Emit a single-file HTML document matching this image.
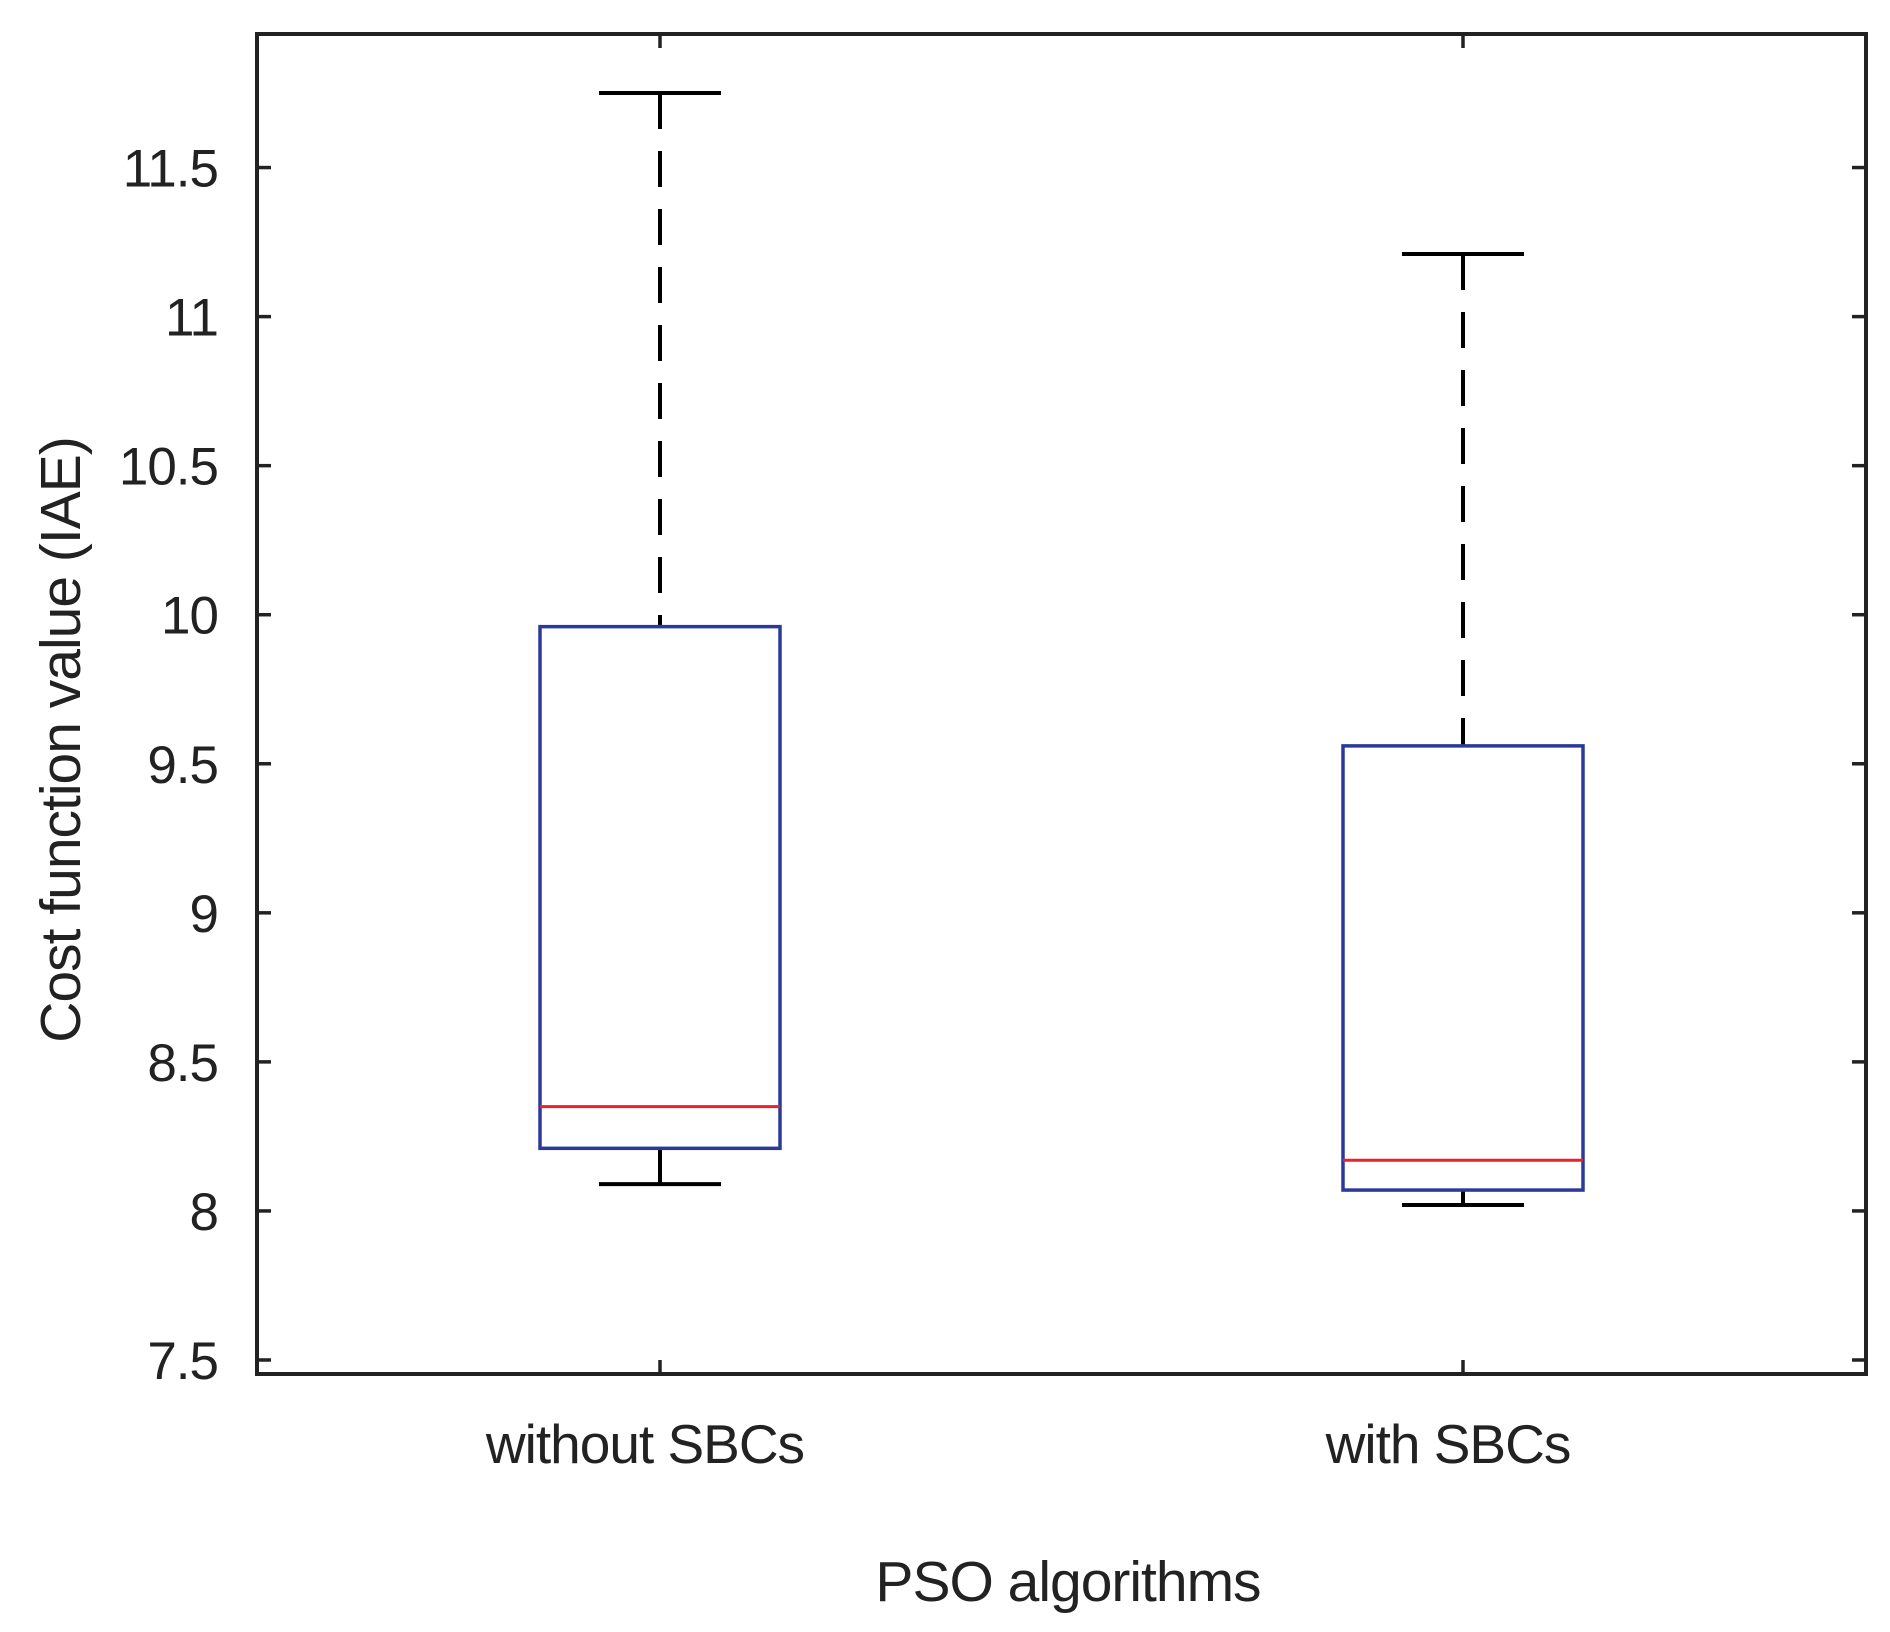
<!DOCTYPE html>
<html><head><meta charset="utf-8"><style>
html,body{margin:0;padding:0;background:#fff;}
svg{display:block;font-family:"Liberation Sans",sans-serif;}
</style></head><body>
<svg id="chart" width="1890" height="1632" viewBox="0 0 1890 1632"></svg>
<script>
const categories = ["without SBCs", "with SBCs"];
const q1Values = [8.21, 8.07];
const q3Values = [9.96, 9.56];
const medianValues = [8.35, 8.17];
const whiskerLow = [8.09, 8.02];
const whiskerHigh = [11.75, 11.21];
const yTicks = [7.5, 8, 8.5, 9, 9.5, 10, 10.5, 11, 11.5];
const yTickLabels = ["7.5", "8", "8.5", "9", "9.5", "10", "10.5", "11", "11.5"];

const L = 257, R = 1866, T = 34, B = 1374;
const yMin = 7.453, yMax = 11.948;
const y = v => B - (v - yMin) / (yMax - yMin) * (B - T);
const x = i => 660 + i * 803;
const svg = document.getElementById('chart');
const NS = 'http://www.w3.org/2000/svg';
function el(tag, attrs, parent) {
  const e = document.createElementNS(NS, tag);
  for (const k in attrs) e.setAttribute(k, attrs[k]);
  (parent || svg).appendChild(e);
  return e;
}
const col = '#222';
yTicks.forEach((v, i) => {
  const t1 = el('line', {x1: L, x2: L + 14, y1: y(v), y2: y(v), stroke: col, 'stroke-width': 3.5});
  
  
  const t2 = el('line', {x1: R - 14, x2: R, y1: y(v), y2: y(v), stroke: col, 'stroke-width': 3.5});
  
  
  const lb = el('text', {x: 218, y: y(v) + 19, 'text-anchor': 'end', 'font-size': 53, fill: col, 'letter-spacing': -1});
  lb.textContent = yTickLabels[i];
  
  
});
categories.forEach((c, i) => {
  const cx = x(i);
  const t1 = el('line', {x1: cx, x2: cx, y1: B, y2: B - 14, stroke: col, 'stroke-width': 3.5});
  
  
  const t2 = el('line', {x1: cx, x2: cx, y1: T, y2: T + 14, stroke: col, 'stroke-width': 3.5});
  
  
  const lb = el('text', {x: cx - 15, y: 1463, 'text-anchor': 'middle', 'font-size': 55, fill: col, 'letter-spacing': -1});
  lb.textContent = c;
  
  
  const wu = el('line', {x1: cx, x2: cx, y1: y(whiskerHigh[i]), y2: y(q3Values[i]), stroke: '#000', 'stroke-width': 4, 'stroke-dasharray': '36 22'});
  
  
  const wl = el('line', {x1: cx, x2: cx, y1: y(q1Values[i]), y2: y(whiskerLow[i]), stroke: '#000', 'stroke-width': 4});
  
  
  const cu = el('line', {x1: cx - 61, x2: cx + 61, y1: y(whiskerHigh[i]), y2: y(whiskerHigh[i]), stroke: '#000', 'stroke-width': 4});
  
  
  const cl = el('line', {x1: cx - 61, x2: cx + 61, y1: y(whiskerLow[i]), y2: y(whiskerLow[i]), stroke: '#000', 'stroke-width': 4});
  
  
  const bx = el('rect', {x: cx - 120, y: y(q3Values[i]), width: 240, height: y(q1Values[i]) - y(q3Values[i]), fill: 'none', stroke: '#2b3a9a', 'stroke-width': 3.5});
  
  
  const md = el('line', {x1: cx - 120, x2: cx + 120, y1: y(medianValues[i]), y2: y(medianValues[i]), stroke: '#e8212a', 'stroke-width': 3});
  
  
});
const frame = el('rect', {x: L, y: T, width: R - L, height: B - T, fill: 'none', stroke: col, 'stroke-width': 4});


const xt = el('text', {x: 1068, y: 1601, 'text-anchor': 'middle', 'font-size': 57, fill: col, 'letter-spacing': -1});
xt.textContent = 'PSO  algorithms';


const yt = el('text', {x: 0, y: 0, 'text-anchor': 'middle', 'font-size': 57, fill: col, 'letter-spacing': -1, transform: 'translate(80,740) rotate(-90)'});
yt.textContent = 'Cost function value (IAE)';


</script>
</body></html>
